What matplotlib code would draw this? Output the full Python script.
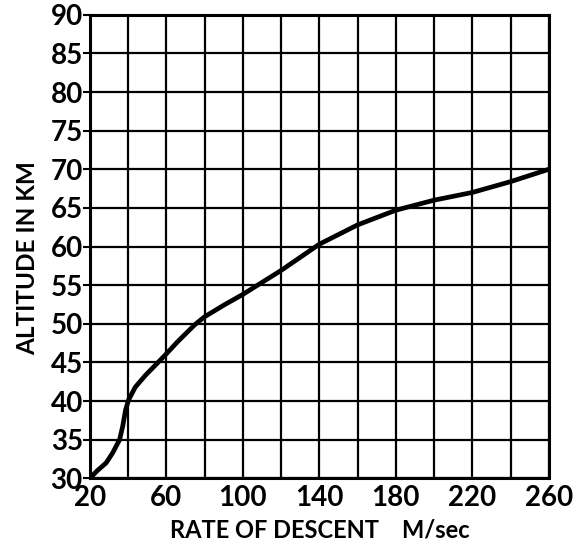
import numpy as np
import matplotlib
matplotlib.use("Agg")
import matplotlib.pyplot as plt

# rate of descent (m/sec) vs altitude (km)
rate = [20, 24, 28.6, 32, 35.6, 37.2, 38.7, 40.2, 43.8, 49, 55.7, 60, 66, 75, 80, 90,
        100, 120, 140, 160, 180, 200, 220, 240, 260]
altitude = [30, 31.0, 32.0, 33.3, 35.0, 36.7, 38.8, 40.1, 41.8, 43.3, 45.0, 46.1, 47.7,
            49.9, 50.9, 52.4, 53.8, 56.9, 60.3, 62.8, 64.7, 66.0, 67.0, 68.4, 70.0]

xticks = list(range(20, 261, 20))
xticklabels = ["20", "", "60", "", "100", "", "140", "", "180", "", "220", "", "260"]
yticks = list(range(30, 91, 5))

plt.rcParams['font.family'] = ['Lato', 'DejaVu Sans']
plt.rcParams['font.weight'] = 'bold'

fig = plt.figure(figsize=(5.79, 5.46), dpi=100)
ax = fig.add_axes([0.155, 0.124, 0.793, 0.849])

ax.plot(rate, altitude, color='black', linewidth=3.4, solid_capstyle='round',
        solid_joinstyle='round')

ax.set_xlim(20, 260)
ax.set_ylim(30, 90)
ax.set_xticks(xticks)
ax.set_xticklabels(xticklabels)
ax.set_yticks(yticks)
ax.grid(True, color='black', linewidth=1.6)
ax.set_axisbelow(True)

for s in ax.spines.values():
    s.set_linewidth(2.2)

ax.tick_params(axis='x', length=0, pad=5, labelsize=20)
ax.tick_params(axis='y', length=5, width=1.5, pad=0, labelsize=20)

ax.set_xlabel("RATE OF DESCENT    M/sec", fontsize=17, fontweight='bold', labelpad=5)
fig.text(0.048, 0.527, "ALTITUDE IN KM", rotation=90, fontsize=17.5, fontweight='bold',
         ha='center', va='center')

fig.savefig("out.png", dpi=100, facecolor='white')
